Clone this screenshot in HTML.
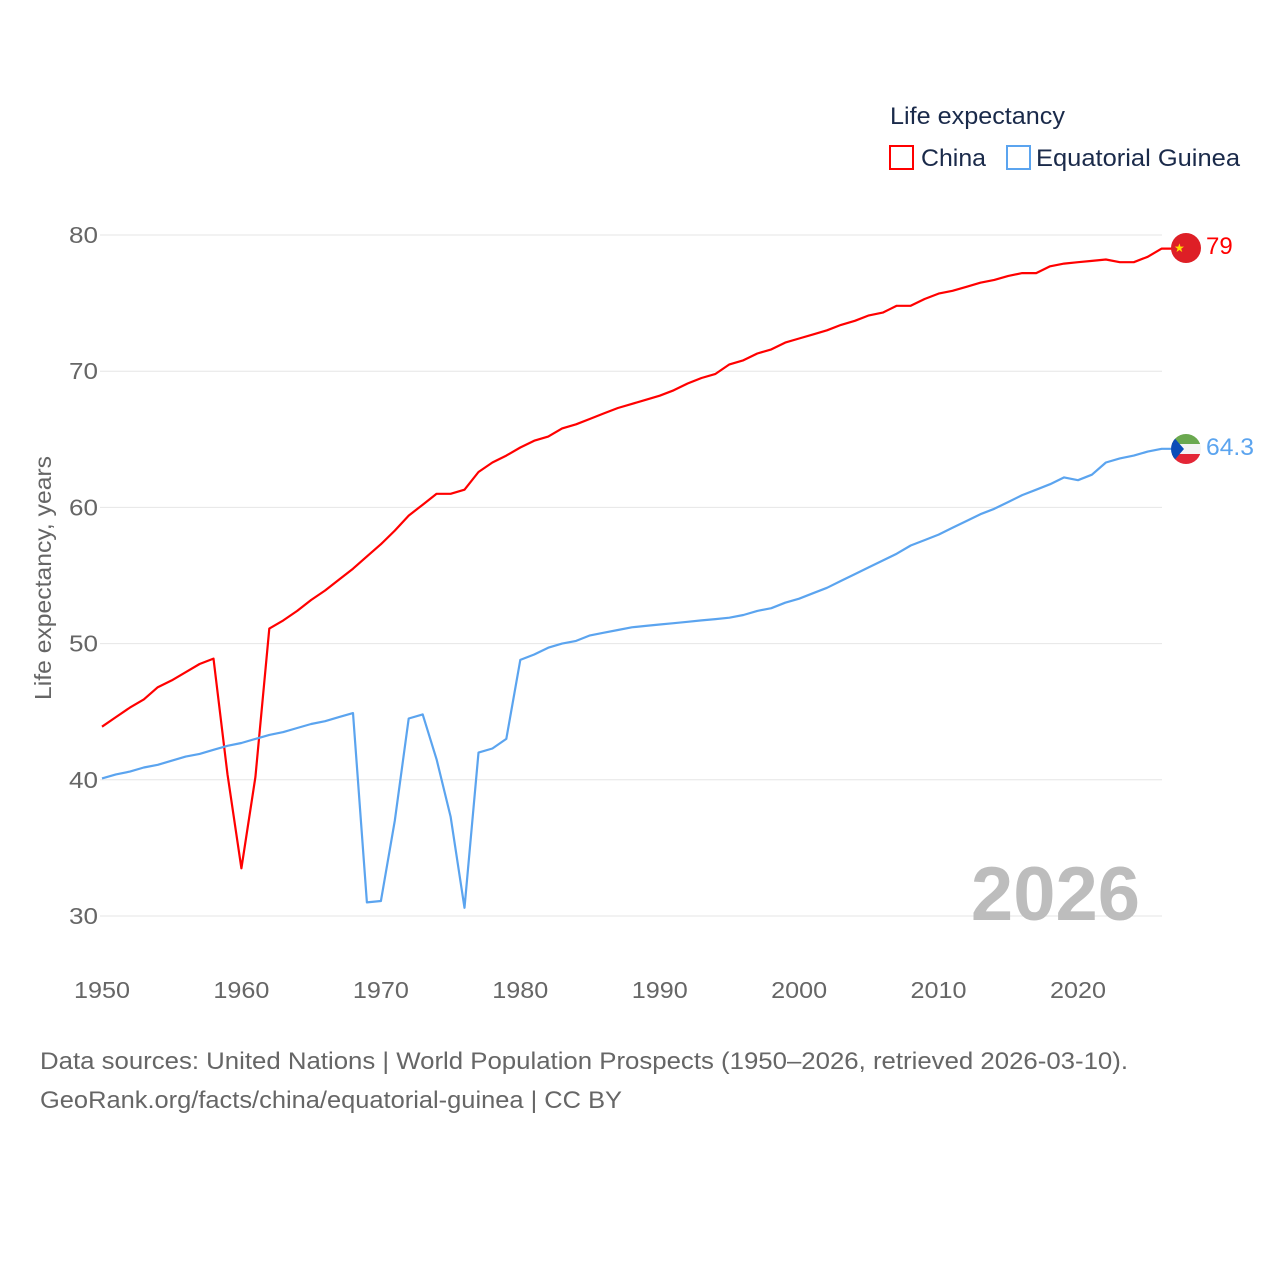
<!DOCTYPE html>
<html><head><meta charset="utf-8"><style>
body{margin:0;background:#fff;font-family:"Liberation Sans",sans-serif;}
svg text{font-family:"Liberation Sans",sans-serif;}
</style></head><body>
<svg id="chart" width="1280" height="1280" viewBox="0 0 1280 1280">
<g id="grid"></g>
<g id="yticks"></g>
<g id="xticks"></g>
<text transform="translate(51,578) rotate(-90)" text-anchor="middle" font-size="23" fill="#666" textLength="244" lengthAdjust="spacingAndGlyphs">Life expectancy, years</text>
<text x="1140" y="920" text-anchor="end" font-size="76" font-weight="bold" fill="#bdbdbd">2026</text>
<g id="series"></g>
<text x="890" y="124" font-size="24" fill="#1a2a4a" textLength="175" lengthAdjust="spacingAndGlyphs">Life expectancy</text>
<g><rect x="890" y="146" width="23" height="23" fill="none" stroke="#ff0000" stroke-width="2"/><text x="921" y="166" font-size="24" fill="#1a2a4a" textLength="65" lengthAdjust="spacingAndGlyphs">China</text></g>
<g><rect x="1007" y="146" width="23" height="23" fill="none" stroke="#5ba4ef" stroke-width="2"/><text x="1036" y="166" font-size="24" fill="#1a2a4a" textLength="204" lengthAdjust="spacingAndGlyphs">Equatorial Guinea</text></g>
<defs><clipPath id="c1"><circle cx="1186" cy="248" r="15"/></clipPath><clipPath id="c2"><circle cx="1186" cy="449" r="15"/></clipPath></defs>
<g clip-path="url(#c1)"><rect x="1171" y="233" width="30" height="30" fill="#de1f26"/><text x="1174" y="252" font-size="12" fill="#ffde00">★</text></g>
<g clip-path="url(#c2)"><rect x="1171" y="434" width="30" height="10" fill="#6aa84f"/><rect x="1171" y="444" width="30" height="10" fill="#f4f4f4"/><rect x="1171" y="454" width="30" height="10" fill="#e32636"/><polygon points="1171,434 1184,449 1171,464" fill="#0b4cb8"/></g>
<text x="1206" y="254" font-size="24" fill="#ff0000">79</text>
<text x="1206" y="455" font-size="24" fill="#5ba4ef" textLength="48" lengthAdjust="spacingAndGlyphs">64.3</text>
<text x="40" y="1069" font-size="24" fill="#666" textLength="1088" lengthAdjust="spacingAndGlyphs">Data sources: United Nations | World Population Prospects (1950–2026, retrieved 2026-03-10).</text>
<text x="40" y="1108" font-size="24" fill="#666" textLength="582" lengthAdjust="spacingAndGlyphs">GeoRank.org/facts/china/equatorial-guinea | CC BY</text>
</svg>
<script>
const startYear = 1950;
const xTickLabels = [1950,1960,1970,1980,1990,2000,2010,2020];
const yTickLabels = [30,40,50,60,70,80];
const chinaValues = [43.9,44.6,45.3,45.9,46.8,47.3,47.9,48.5,48.9,40.4,33.5,40.2,51.1,51.7,52.4,53.2,53.9,54.7,55.5,56.4,57.3,58.3,59.4,60.2,61.0,61.0,61.3,62.6,63.3,63.8,64.4,64.9,65.2,65.8,66.1,66.5,66.9,67.3,67.6,67.9,68.2,68.6,69.1,69.5,69.8,70.5,70.8,71.3,71.6,72.1,72.4,72.7,73.0,73.4,73.7,74.1,74.3,74.8,74.8,75.3,75.7,75.9,76.2,76.5,76.7,77.0,77.2,77.2,77.7,77.9,78.0,78.1,78.2,78.0,78.0,78.4,79.0];
const eqGuineaValues = [40.1,40.4,40.6,40.9,41.1,41.4,41.7,41.9,42.2,42.5,42.7,43.0,43.3,43.5,43.8,44.1,44.3,44.6,44.9,31.0,31.1,37.0,44.5,44.8,41.5,37.3,30.6,42.0,42.3,43.0,48.8,49.2,49.7,50.0,50.2,50.6,50.8,51.0,51.2,51.3,51.4,51.5,51.6,51.7,51.8,51.9,52.1,52.4,52.6,53.0,53.3,53.7,54.1,54.6,55.1,55.6,56.1,56.6,57.2,57.6,58.0,58.5,59.0,59.5,59.9,60.4,60.9,61.3,61.7,62.2,62.0,62.4,63.3,63.6,63.8,64.1,64.3];

const NS="http://www.w3.org/2000/svg";
function xs(yr){return 102+(yr-1950)*(976/70);}
function ys(v){return 235+(80-v)*(681/50);}
function mk(tag,attrs,parent){const e=document.createElementNS(NS,tag);for(const k in attrs)e.setAttribute(k,attrs[k]);parent.appendChild(e);return e;}
const grid=document.getElementById('grid'),yt=document.getElementById('yticks'),xt=document.getElementById('xticks'),ser=document.getElementById('series');
yTickLabels.forEach(v=>{
  const l=mk('line',{x1:100,x2:1162,y1:ys(v),y2:ys(v),stroke:'#e6e6e6','stroke-width':1},grid);
  
  
  const t=mk('text',{x:98,y:ys(v)+8,'text-anchor':'end','font-size':23,fill:'#666',textLength:29,lengthAdjust:'spacingAndGlyphs'},yt);
  t.textContent=v;
  
  
});
xTickLabels.forEach(v=>{
  const t=mk('text',{x:xs(v),y:998,'text-anchor':'middle','font-size':23,fill:'#666',textLength:56,lengthAdjust:'spacingAndGlyphs'},xt);
  t.textContent=v;
  
  
});
function line(vals,color,name){
  let d=vals.map((v,i)=>(i?'L':'M')+xs(startYear+i).toFixed(1)+','+ys(v).toFixed(1)).join(' ');
  const last=vals[vals.length-1];
  d+=' L1172,'+ys(last).toFixed(1);
  const p=mk('path',{d:d,fill:'none',stroke:color,'stroke-width':2.2,'stroke-linejoin':'round'},ser);
  
  
}
line(chinaValues,'#ff0000','china-line');
line(eqGuineaValues,'#5ba4ef','equatorial-guinea-line');
</script>
</body></html>
